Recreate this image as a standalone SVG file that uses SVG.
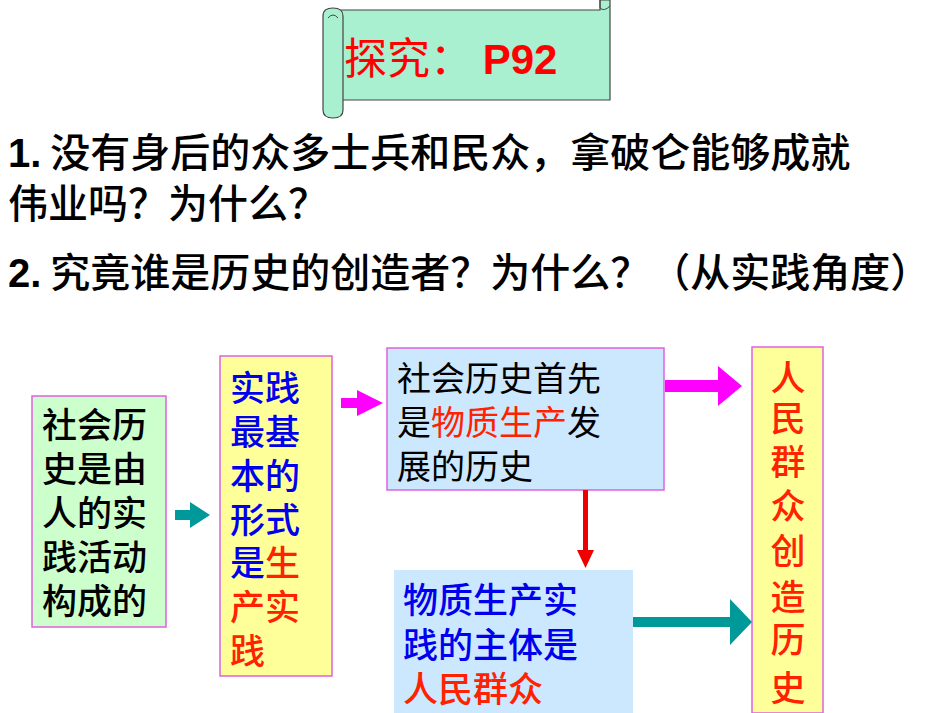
<svg xmlns="http://www.w3.org/2000/svg" width="950" height="713" viewBox="0 0 950 713">
<style>
text{font-family:"Noto Sans CJK SC","Liberation Sans",sans-serif;}
.q{font-size:40px;font-weight:500;fill:#000}
.b{font-size:35px;font-weight:500}
.k{fill:#000}.u{fill:#0000ee}.r{fill:#ff2200}
.box{stroke:#e060e0;stroke-width:1.5}
</style>
<rect width="950" height="713" fill="#fff"/>
<g id="scroll">
<path d="M333 10 H600 V0 H610 V100 H333 Z" fill="#a8f0d0" stroke="#444" stroke-width="1.2"/>
<path d="M323 16 Q323 8 333 8 Q343 8 343 16 V110 Q343 118 333 118 Q323 118 323 110 Z" fill="#a8f0d0" stroke="#444" stroke-width="1.2"/>
<path d="M328 18 Q333 12 338 18" fill="none" stroke="#444"/>
<path d="M600 0 V8 Q604 12 610 6" fill="none" stroke="#444"/>
<text x="344" y="74" font-size="43" fill="#ff0000">探究： <tspan font-weight="bold" font-size="42" font-family="Liberation Sans">P92</tspan></text>
</g>
<g id="questions">
<text class="q" x="8" y="167"><tspan font-family="Liberation Sans" font-weight="bold">1.</tspan> 没有身后的众多士兵和民众，拿破仑能够成就</text>
<text class="q" x="8" y="218">伟业吗？为什么？</text>
<text class="q" x="8" y="287"><tspan font-family="Liberation Sans" font-weight="bold">2.</tspan> 究竟谁是历史的创造者？为什么？（从实践角度）</text>
</g>
<g id="n1">
<rect class="box" x="32" y="396" width="134" height="231" fill="#ccffcc"/>
<text class="b k" x="42" y="438">社会历</text>
<text class="b k" x="42" y="482">史是由</text>
<text class="b k" x="42" y="526">人的实</text>
<text class="b k" x="42" y="570">践活动</text>
<text class="b k" x="42" y="614">构成的</text>
</g>
<g id="n2">
<rect class="box" x="220" y="356" width="112" height="320" fill="#ffff99"/>
<text class="b u" x="230" y="401">实践</text>
<text class="b u" x="230" y="445">最基</text>
<text class="b u" x="230" y="489">本的</text>
<text class="b u" x="230" y="533">形式</text>
<text class="b" x="230" y="576"><tspan class="u">是</tspan><tspan class="r">生</tspan></text>
<text class="b r" x="230" y="620">产实</text>
<text class="b r" x="230" y="664">践</text>
</g>
<g id="n3">
<rect class="box" x="387" y="348" width="277" height="142" fill="#cce8ff"/>
<text class="k" font-size="34" x="397" y="391">社会历史首先</text>
<text font-size="34" x="397" y="435"><tspan class="k">是</tspan><tspan class="r">物质生产</tspan><tspan class="k">发</tspan></text>
<text class="k" font-size="34" x="397" y="479">展的历史</text>
</g>
<g id="n4">
<rect x="394" y="570" width="239" height="143" fill="#cce8ff"/>
<text class="b u" x="403" y="613">物质生产实</text>
<text class="b u" x="403" y="658">践的主体是</text>
<text class="b r" x="403" y="702">人民群众</text>
</g>
<g id="n5">
<rect class="box" x="752" y="347" width="71" height="366" fill="#ffff99"/>
<g class="b r" text-anchor="middle">
<text x="788" y="391">人</text><text x="788" y="431">民</text><text x="788" y="475">群</text><text x="788" y="519">众</text>
<text x="788" y="564">创</text><text x="788" y="610">造</text><text x="788" y="653">历</text><text x="788" y="701">史</text>
</g>
</g>
<g id="connectors">
<polygon points="175,510 190,510 190,502 210,515 190,528 190,520 175,520" fill="#009999"/>
<polygon points="341,398 357,398 357,390 383,403 357,416 357,408 341,408" fill="#ff00ff"/>
<polygon points="665,380 718,380 718,366 742,386 718,406 718,392 665,392" fill="#ff00ff"/>
<polygon points="583,490 588,490 588,550 594,550 585.5,568 577,550 583,550" fill="#ee0000"/>
<polygon points="633,617 730,617 730,599 752,622 730,645 730,627 633,627" fill="#009999"/>
</g>
</svg>
